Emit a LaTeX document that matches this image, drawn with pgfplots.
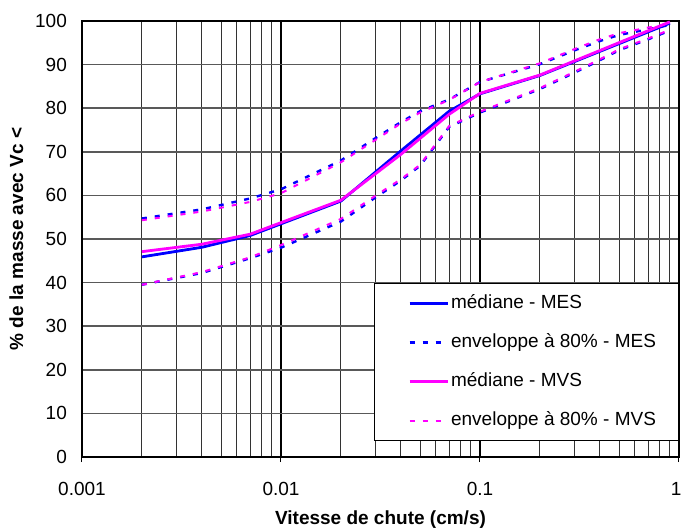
\documentclass[border=0pt]{standalone}
\usepackage{fontspec}
\setmainfont{Liberation Sans}
\usepackage{pgfplots}
\pgfplotsset{compat=1.18}
\definecolor{mblue}{RGB}{0,0,255}
\definecolor{mmag}{RGB}{255,0,255}
\begin{document}
\begin{tikzpicture}
\begin{axis}[
  scale only axis,
  width=597pt, height=436pt,
  xmode=log,
  xmin=0.001, xmax=1, ymin=0, ymax=100,
  xtick={0.001,0.01,0.1,1},
  xticklabels={0.001,0.01,0.1,{\makebox[5pt][r]{1}}},
  minor xtick={0.002,0.003,0.004,0.005,0.006,0.007,0.008,0.009,0.02,0.03,0.04,0.05,0.06,0.07,0.08,0.09,0.2,0.3,0.4,0.5,0.6,0.7,0.8,0.9},
  ytick={0,10,...,100},
  /pgf/number format/assume math mode=true,
  grid=major,
  xminorgrids=true,
  major x grid style={black, line width=1.1pt},
  minor x grid style={black!80, line width=1.0pt},
  y grid style={black!65, line width=1.5pt},
  axis line style={black, line width=1.2pt},
  tick align=outside,
  tick pos=left,
  major tick length=5pt,
  minor tick length=0pt,
  xtick style={black, line width=1pt},
  ytick style={draw=none},
  ticklabel style={font=\fontsize{19}{22}\selectfont},
  xticklabel style={anchor=base, inner sep=0pt, yshift=-33pt},
  yticklabel style={anchor=east, inner sep=0pt, xshift=-10pt},
  xlabel={Vitesse de chute (cm/s)},
  ylabel={\% de la masse avec Vc <},
  label style={font=\fontsize{19}{22}\selectfont\bfseries},
  xlabel style={at={(axis description cs:0.5,-0.1537)}, anchor=base},
  ylabel style={at={(axis description cs:-0.0985,0.5)}, anchor=base},
  legend cell align=left,
  legend image code/.code={\path (0pt,0pt); \draw[#1] (13pt,0pt) -- (51pt,0pt);},
  legend style={at={(1,0.399)}, anchor=north east, draw=black, line width=1pt, fill=white,
    font=\fontsize{19}{22}\selectfont, inner xsep=20.5pt, inner ysep=9pt, row sep=17pt,
    nodes={inner sep=2pt, text height=14pt, text depth=4pt}},
]
% median MES
\addplot[mblue, line width=2.8pt, line join=round] coordinates {
(0.002,45.9) (0.004,48.1) (0.007,50.8) (0.02,58.7) (0.04,70.2) (0.07,79.3) (0.1,83.3) (0.2,87.5) (0.9,99.5)};
\addlegendentry{médiane - MES}
% envelope MES upper
\addplot[mblue, line width=2.4pt, dash pattern=on 5pt off 8pt] coordinates {
(0.002,54.7) (0.004,56.8) (0.007,59.3) (0.01,61.4) (0.02,68.0) (0.03,73.2) (0.04,76.8) (0.05,79.3) (0.07,82.0) (0.1,86.0) (0.2,90.1) (0.3,93.3) (0.4,95.4) (0.5,96.8) (0.7,98.1) (0.9,99.1)};
\addlegendentry{enveloppe à 80\% - MES}
% envelope MES lower
\addplot[mblue, line width=2.4pt, dash pattern=on 5pt off 8pt, forget plot] coordinates {
(0.002,39.5) (0.004,42.2) (0.007,45.6) (0.01,48.0) (0.02,54.0) (0.03,59.6) (0.04,63.4) (0.05,66.8) (0.07,75.7) (0.1,79.0) (0.2,84.4) (0.3,88.2) (0.4,91.0) (0.5,93.3) (0.7,95.8) (0.9,97.8)};
% median MVS
\addplot[mmag, line width=2.8pt, line join=round] coordinates {
(0.002,47.1) (0.004,48.8) (0.007,51.1) (0.02,58.9) (0.04,69.4) (0.07,78.6) (0.1,83.4) (0.2,87.6) (0.9,99.8)};
\addlegendentry{médiane - MVS}
% envelope MVS upper
\addplot[mmag, line width=2pt, dash pattern=on 5pt off 8pt] coordinates {
(0.002,54.3) (0.004,56.3) (0.007,58.5) (0.01,60.5) (0.02,67.6) (0.03,72.8) (0.04,76.5) (0.05,79.0) (0.07,81.9) (0.1,86.0) (0.2,90.3) (0.3,93.6) (0.4,95.8) (0.5,97.2) (0.7,98.5) (0.9,99.4)};
\addlegendentry{enveloppe à 80\% - MVS}
% envelope MVS lower
\addplot[mmag, line width=2pt, dash pattern=on 5pt off 8pt, forget plot] coordinates {
(0.002,39.5) (0.004,42.4) (0.007,45.8) (0.01,48.6) (0.02,54.6) (0.03,60.0) (0.04,63.7) (0.05,67.0) (0.07,75.9) (0.1,79.2) (0.2,84.6) (0.3,88.4) (0.4,91.2) (0.5,93.5) (0.7,96.0) (0.9,98.0)};
\coordinate (sw) at (rel axis cs:0,0);
\end{axis}
\pgfresetboundingbox
\path[use as bounding box] (sw) ++(-82pt,-71pt) rectangle ++(682pt,528pt);
\end{tikzpicture}
\end{document}
